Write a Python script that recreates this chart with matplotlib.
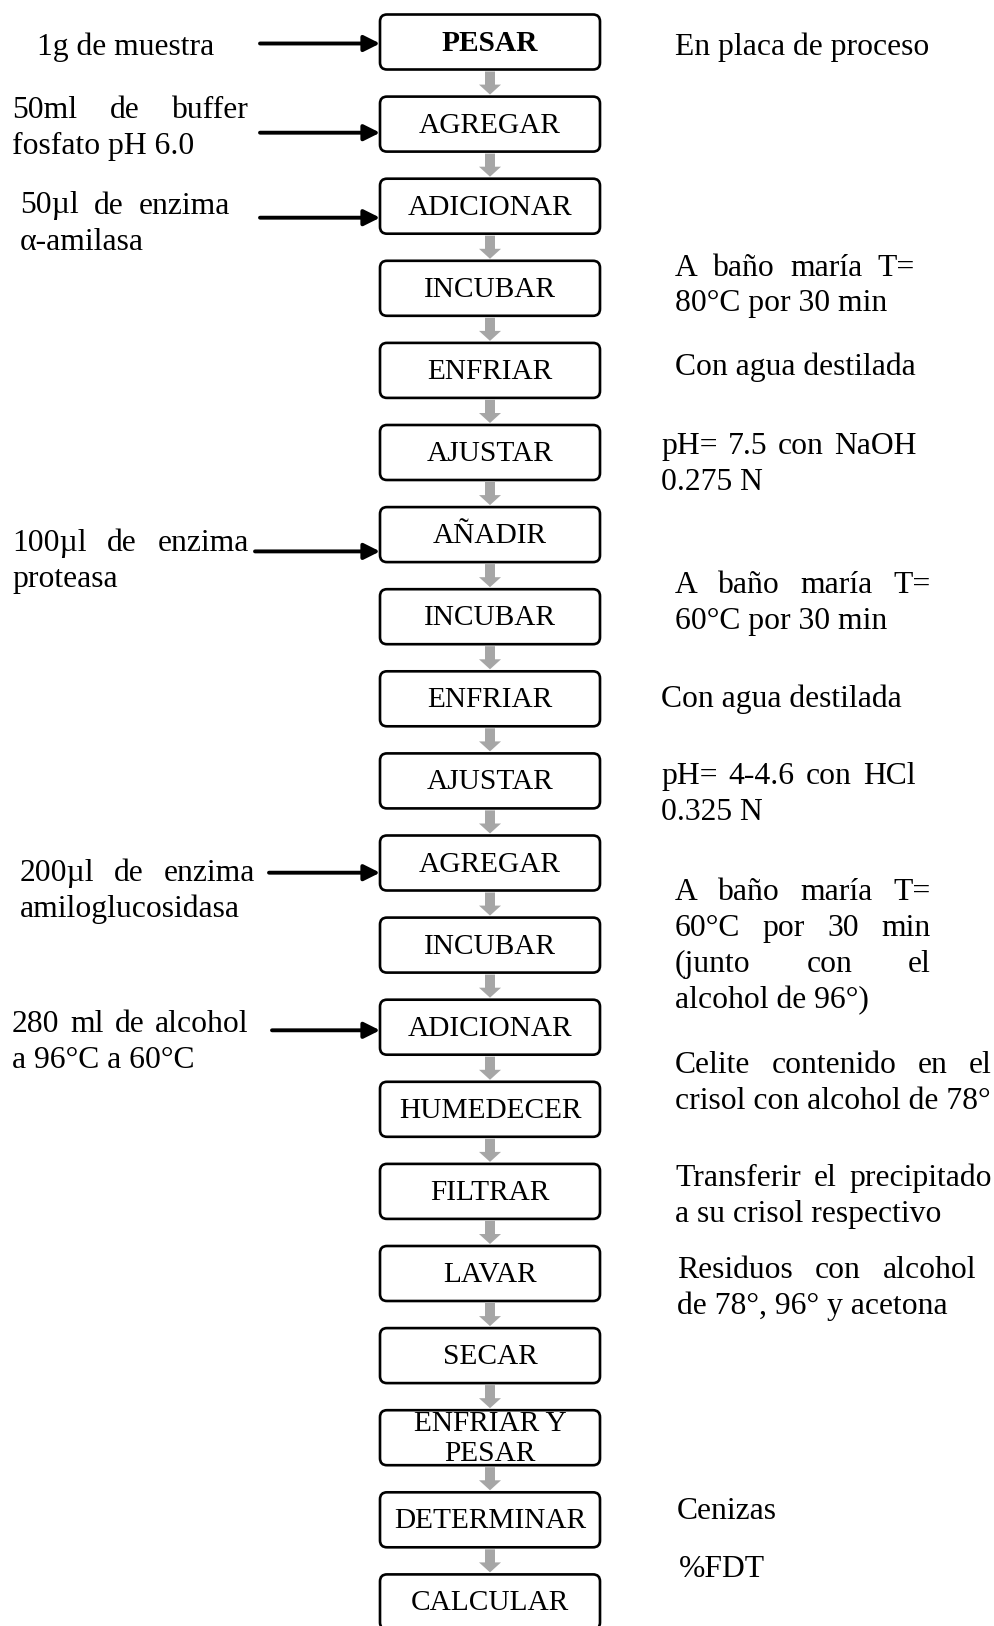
import matplotlib
matplotlib.use('Agg')
import matplotlib.pyplot as plt
from matplotlib.patches import FancyBboxPatch, FancyArrow

# ---------------- data ----------------
steps = ["PESAR", "AGREGAR", "ADICIONAR", "INCUBAR", "ENFRIAR", "AJUSTAR",
         "AÑADIR", "INCUBAR", "ENFRIAR", "AJUSTAR", "AGREGAR", "INCUBAR",
         "ADICIONAR", "HUMEDECER", "FILTRAR", "LAVAR", "SECAR",
         "ENFRIAR Y\nPESAR", "DETERMINAR", "CALCULAR"]

input_steps = [0, 1, 2, 6, 10, 12]
input_notes = [["1g de muestra"],
               ["50ml de buffer", "fosfato pH 6.0"],
               ["50µl de enzima", "α-amilasa"],
               ["100µl de enzima", "proteasa"],
               ["200µl de enzima", "amiloglucosidasa"],
               ["280 ml de alcohol", "a 96°C a 60°C"]]

side_notes = [["En placa de proceso"],
              ["A baño maría T=", "80°C por 30 min"],
              ["Con agua destilada"],
              ["pH= 7.5 con NaOH", "0.275 N"],
              ["A baño maría T=", "60°C por 30 min"],
              ["Con agua destilada"],
              ["pH= 4-4.6 con HCl", "0.325 N"],
              ["A baño maría T=", "60°C por 30 min", "(junto con el", "alcohol de 96°)"],
              ["Celite contenido en el", "crisol con alcohol de 78°"],
              ["Transferir el precipitado", "a su crisol respectivo"],
              ["Residuos con alcohol", "de 78°, 96° y acetona"],
              ["Cenizas"],
              ["%FDT"]]

# ---------------- layout (pixels) ----------------
W, H = 995, 1626
FONT = "Liberation Serif"
FS = 22.8       # notes
FS_BOX = 21.2   # box labels
BOX_X0, BOX_W, BOX_H = 380, 220, 55
TOP0, PITCH = 14.5, 82.1
LINE = 36
DY = 3  # vertical offset of note text

# (x, right edge for justification or None, y first line, arrow x0, arrow y)
input_layout = [(37, None, 44.5, 260, 43.5),
                (12, 249, 107.8, 260, 132.7),
                (20, 230, 203.0, 260, 217.7),
                (12, 249, 540.0, 255, 551.4),
                (20, 255, 870.7, 269, 872.7),
                (12, 249, 1021.0, 272, 1030.3)]

side_layout = [(675, None, 44.6), (675, 915, 265.0), (675, None, 363.8),
               (661, 916, 443.6), (675, 931, 582.5), (661, None, 696.5),
               (661, 916, 773.2), (675, 931, 889.3), (675, 992, 1062.4),
               (675, 992, 1175.4), (677, 976, 1267.6), (677, None, 1508.1),
               (679, None, 1566.2)]

fig = plt.figure(figsize=(W / 100, H / 100), dpi=100)
ax = fig.add_axes([0, 0, 1, 1])
ax.set_xlim(0, W)
ax.set_ylim(H, 0)
ax.axis('off')
renderer = fig.canvas.get_renderer()


def word_width(w):
    t = ax.text(0, 0, w, fontsize=FS, family=FONT)
    bb = t.get_window_extent(renderer=renderer)
    t.remove()
    return bb.width


def put_line(x, y, s, right=None):
    if right is None or ' ' not in s:
        ax.text(x, y, s, fontsize=FS, family=FONT, va='center', ha='left')
        return
    words = s.split()
    widths = [word_width(w) for w in words]
    gap = max((right - x - sum(widths)) / (len(words) - 1), word_width('a') * 0.5)
    cx = x
    for w, wd in zip(words, widths):
        ax.text(cx, y, w, fontsize=FS, family=FONT, va='center', ha='left')
        cx += wd + gap


def put_block(lines, x, right, y0):
    for k, s in enumerate(lines):
        r = right if k < len(lines) - 1 else None
        put_line(x, y0 + DY + k * LINE, s, r)


# boxes and gray arrows
for i, s in enumerate(steps):
    top = TOP0 + i * PITCH
    ax.add_patch(FancyBboxPatch((BOX_X0, top), BOX_W, BOX_H,
                                boxstyle="round,pad=0,rounding_size=7",
                                fc='white', ec='black', lw=1.9, zorder=3))
    ax.text(BOX_X0 + BOX_W / 2, top + BOX_H / 2 + 1.5, s, fontsize=FS_BOX, family=FONT,
            ha='center', va='center', linespacing=1.22,
            fontweight='bold' if i == 0 else 'normal', zorder=4)
    if i < len(steps) - 1:
        y0 = top + BOX_H + 2
        y1 = TOP0 + (i + 1) * PITCH - 2
        ax.add_patch(FancyArrow(BOX_X0 + BOX_W / 2, y0, 0, y1 - y0, width=10,
                                head_width=22, head_length=10,
                                length_includes_head=True, color='#a6a6a6',
                                lw=0, zorder=2))

# input notes with black arrows
for (x, r, y, ax0, ay), lines in zip(input_layout, input_notes):
    put_block(lines, x, r, y)
    ax.annotate('', xy=(BOX_X0, ay), xytext=(ax0, ay),
                arrowprops=dict(arrowstyle='-|>', lw=2.8, color='black',
                                mutation_scale=24, shrinkA=0, shrinkB=0),
                zorder=5)

# side notes
for (x, r, y), lines in zip(side_layout, side_notes):
    put_block(lines, x, r, y)

fig.savefig('out.png', dpi=100, facecolor='white')
